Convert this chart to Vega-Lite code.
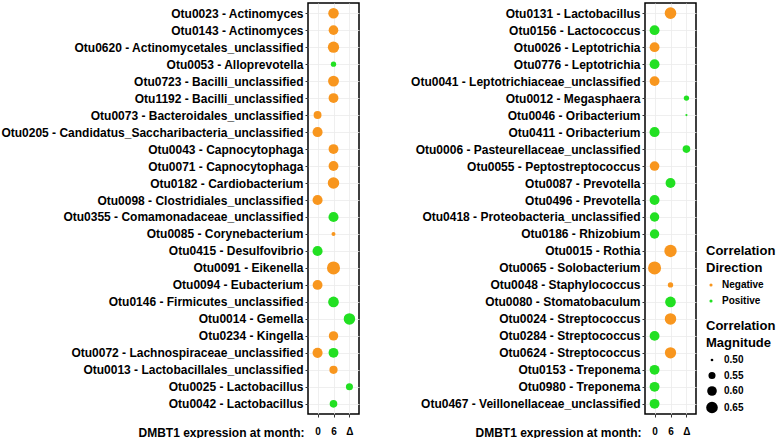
{
  "$schema": "https://vega.github.io/schema/vega-lite/v6.json",
  "padding": {"left": 0, "top": 2, "right": 0, "bottom": 0},
  "background": "white",
  "datasets": {
    "otu": [
      {"p": "L", "otu": "Otu0023 - Actinomyces", "m": "6", "dir": "Negative", "mag": 0.62},
      {"p": "L", "otu": "Otu0143 - Actinomyces", "m": "6", "dir": "Negative", "mag": 0.60},
      {"p": "L", "otu": "Otu0620 - Actinomycetales_unclassified", "m": "6", "dir": "Negative", "mag": 0.64},
      {"p": "L", "otu": "Otu0053 - Alloprevotella", "m": "6", "dir": "Positive", "mag": 0.525},
      {"p": "L", "otu": "Otu0723 - Bacilli_unclassified", "m": "6", "dir": "Negative", "mag": 0.63},
      {"p": "L", "otu": "Otu1192 - Bacilli_unclassified", "m": "6", "dir": "Negative", "mag": 0.605},
      {"p": "L", "otu": "Otu0073 - Bacteroidales_unclassified", "m": "0", "dir": "Negative", "mag": 0.565},
      {"p": "L", "otu": "Otu0205 - Candidatus_Saccharibacteria_unclassified", "m": "0", "dir": "Negative", "mag": 0.61},
      {"p": "L", "otu": "Otu0043 - Capnocytophaga", "m": "6", "dir": "Negative", "mag": 0.605},
      {"p": "L", "otu": "Otu0071 - Capnocytophaga", "m": "6", "dir": "Negative", "mag": 0.605},
      {"p": "L", "otu": "Otu0182 - Cardiobacterium", "m": "6", "dir": "Negative", "mag": 0.645},
      {"p": "L", "otu": "Otu0098 - Clostridiales_unclassified", "m": "0", "dir": "Negative", "mag": 0.61},
      {"p": "L", "otu": "Otu0355 - Comamonadaceae_unclassified", "m": "6", "dir": "Positive", "mag": 0.61},
      {"p": "L", "otu": "Otu0085 - Corynebacterium", "m": "6", "dir": "Negative", "mag": 0.51},
      {"p": "L", "otu": "Otu0415 - Desulfovibrio", "m": "0", "dir": "Positive", "mag": 0.61},
      {"p": "L", "otu": "Otu0091 - Eikenella", "m": "6", "dir": "Negative", "mag": 0.69},
      {"p": "L", "otu": "Otu0094 - Eubacterium", "m": "0", "dir": "Negative", "mag": 0.605},
      {"p": "L", "otu": "Otu0146 - Firmicutes_unclassified", "m": "6", "dir": "Positive", "mag": 0.625},
      {"p": "L", "otu": "Otu0014 - Gemella", "m": "Δ", "dir": "Positive", "mag": 0.645},
      {"p": "L", "otu": "Otu0234 - Kingella", "m": "6", "dir": "Negative", "mag": 0.595},
      {"p": "L", "otu": "Otu0072 - Lachnospiraceae_unclassified", "m": "0", "dir": "Negative", "mag": 0.61},
      {"p": "L", "otu": "Otu0072 - Lachnospiraceae_unclassified", "m": "6", "dir": "Positive", "mag": 0.605},
      {"p": "L", "otu": "Otu0013 - Lactobacillales_unclassified", "m": "6", "dir": "Negative", "mag": 0.57},
      {"p": "L", "otu": "Otu0025 - Lactobacillus", "m": "Δ", "dir": "Positive", "mag": 0.55},
      {"p": "L", "otu": "Otu0042 - Lactobacillus", "m": "6", "dir": "Positive", "mag": 0.56},
      {"p": "R", "otu": "Otu0131 - Lactobacillus", "m": "6", "dir": "Negative", "mag": 0.65},
      {"p": "R", "otu": "Otu0156 - Lactococcus", "m": "0", "dir": "Positive", "mag": 0.605},
      {"p": "R", "otu": "Otu0026 - Leptotrichia", "m": "0", "dir": "Negative", "mag": 0.605},
      {"p": "R", "otu": "Otu0776 - Leptotrichia", "m": "0", "dir": "Positive", "mag": 0.605},
      {"p": "R", "otu": "Otu0041 - Leptotrichiaceae_unclassified", "m": "0", "dir": "Negative", "mag": 0.605},
      {"p": "R", "otu": "Otu0012 - Megasphaera", "m": "Δ", "dir": "Positive", "mag": 0.525},
      {"p": "R", "otu": "Otu0046 - Oribacterium", "m": "Δ", "dir": "Positive", "mag": 0.497},
      {"p": "R", "otu": "Otu0411 - Oribacterium", "m": "0", "dir": "Positive", "mag": 0.61},
      {"p": "R", "otu": "Otu0006 - Pasteurellaceae_unclassified", "m": "Δ", "dir": "Positive", "mag": 0.56},
      {"p": "R", "otu": "Otu0055 - Peptostreptococcus", "m": "0", "dir": "Negative", "mag": 0.60},
      {"p": "R", "otu": "Otu0087 - Prevotella", "m": "6", "dir": "Positive", "mag": 0.605},
      {"p": "R", "otu": "Otu0496 - Prevotella", "m": "0", "dir": "Positive", "mag": 0.605},
      {"p": "R", "otu": "Otu0418 - Proteobacteria_unclassified", "m": "0", "dir": "Positive", "mag": 0.595},
      {"p": "R", "otu": "Otu0186 - Rhizobium", "m": "0", "dir": "Positive", "mag": 0.595},
      {"p": "R", "otu": "Otu0015 - Rothia", "m": "6", "dir": "Negative", "mag": 0.67},
      {"p": "R", "otu": "Otu0065 - Solobacterium", "m": "0", "dir": "Negative", "mag": 0.69},
      {"p": "R", "otu": "Otu0048 - Staphylococcus", "m": "6", "dir": "Negative", "mag": 0.525},
      {"p": "R", "otu": "Otu0080 - Stomatobaculum", "m": "6", "dir": "Positive", "mag": 0.625},
      {"p": "R", "otu": "Otu0024 - Streptococcus", "m": "6", "dir": "Negative", "mag": 0.645},
      {"p": "R", "otu": "Otu0284 - Streptococcus", "m": "0", "dir": "Positive", "mag": 0.605},
      {"p": "R", "otu": "Otu0624 - Streptococcus", "m": "6", "dir": "Negative", "mag": 0.64},
      {"p": "R", "otu": "Otu0153 - Treponema", "m": "0", "dir": "Positive", "mag": 0.605},
      {"p": "R", "otu": "Otu0980 - Treponema", "m": "0", "dir": "Positive", "mag": 0.605},
      {"p": "R", "otu": "Otu0467 - Veillonellaceae_unclassified", "m": "0", "dir": "Positive", "mag": 0.605}
    ]
  },
  "data": {"name": "otu"},
  "spacing": 49,
  "resolve": {"scale": {"x": "independent", "y": "independent"}},
  "hconcat": [
    {
      "width": 51,
      "height": 411,
      "transform": [{"filter": "datum.p === 'L'"}],
      "mark": {"type": "circle", "opacity": 1},
      "encoding": {
        "x": {"field": "m", "type": "ordinal",
              "scale": {"type": "point", "domain": ["0", "6", "Δ"], "padding": 0.6},
              "axis": {"title": "DMBT1 expression at month:", "titleX": -4, "titleY": 18, "titleAlign": "right", "titleBaseline": "middle", "titleAnchor": "start"}},
        "y": {"field": "otu", "type": "nominal", "sort": null,
              "scale": {"type": "point", "padding": 0.6},
              "axis": {"title": null, "minExtent": 302, "maxExtent": 302}},
        "color": {"field": "dir", "type": "nominal",
                  "scale": {"domain": ["Negative", "Positive"], "range": ["#F8961E", "#22E022"]},
                  "legend": {"title": ["Correlation", "Direction"], "orient": "none", "legendX": 398, "legendY": 242, "symbolSize": 10, "symbolType": "circle", "rowPadding": 6}},
        "size": {"field": "mag", "type": "quantitative",
                 "scale": {"domain": [0.495, 0.69], "range": [3, 170], "zero": false},
                 "legend": {"title": ["Correlation", "Magnitude"], "values": [0.5, 0.55, 0.6, 0.65], "format": ".2f", "orient": "none", "legendX": 398, "legendY": 317, "symbolFillColor": "black", "symbolStrokeWidth": 0, "rowPadding": 5.5}}
      }
    },
    {
      "width": 51,
      "height": 411,
      "transform": [{"filter": "datum.p === 'R'"}],
      "mark": {"type": "circle", "opacity": 1},
      "encoding": {
        "x": {"field": "m", "type": "ordinal",
              "scale": {"type": "point", "domain": ["0", "6", "Δ"], "padding": 0.6},
              "axis": {"title": "DMBT1 expression at month:", "titleX": -4, "titleY": 18, "titleAlign": "right", "titleBaseline": "middle", "titleAnchor": "start"}},
        "y": {"field": "otu", "type": "nominal", "sort": null,
              "scale": {"type": "point", "padding": 0.6},
              "axis": {"title": null, "minExtent": 228, "maxExtent": 228}},
        "color": {"field": "dir", "type": "nominal"},
        "size": {"field": "mag", "type": "quantitative"}
      }
    }
  ],
  "config": {
    "font": "Liberation Sans",
    "view": {"stroke": "black", "strokeWidth": 1.5},
    "axis": {
      "domain": false,
      "grid": true,
      "gridColor": "#EBEBEB",
      "gridWidth": 0.8,
      "ticks": true,
      "tickColor": "#333333",
      "tickSize": 3,
      "labelColor": "black",
      "labelFont": "Liberation Sans",
      "labelFontWeight": "bold",
      "titleFont": "Liberation Sans",
      "titleFontWeight": "bold",
      "titleFontSize": 12,
      "titleColor": "black"
    },
    "axisY": {"labelFontSize": 12, "labelPadding": 2, "labelLimit": 400},
    "axisX": {"labelFontSize": 10, "labelPadding": 14, "labelAngle": 0, "labelBaseline": "middle"},
    "legend": {
      "titleFont": "Liberation Sans",
      "titleFontSize": 13,
      "titleFontWeight": "bold",
      "titleColor": "black",
      "titleLineHeight": 17,
      "titleLimit": 200,
      "labelFont": "Liberation Sans",
      "labelFontSize": 10,
      "labelFontWeight": "bold",
      "labelColor": "black",
      "labelOffset": 6
    }
  }
}
